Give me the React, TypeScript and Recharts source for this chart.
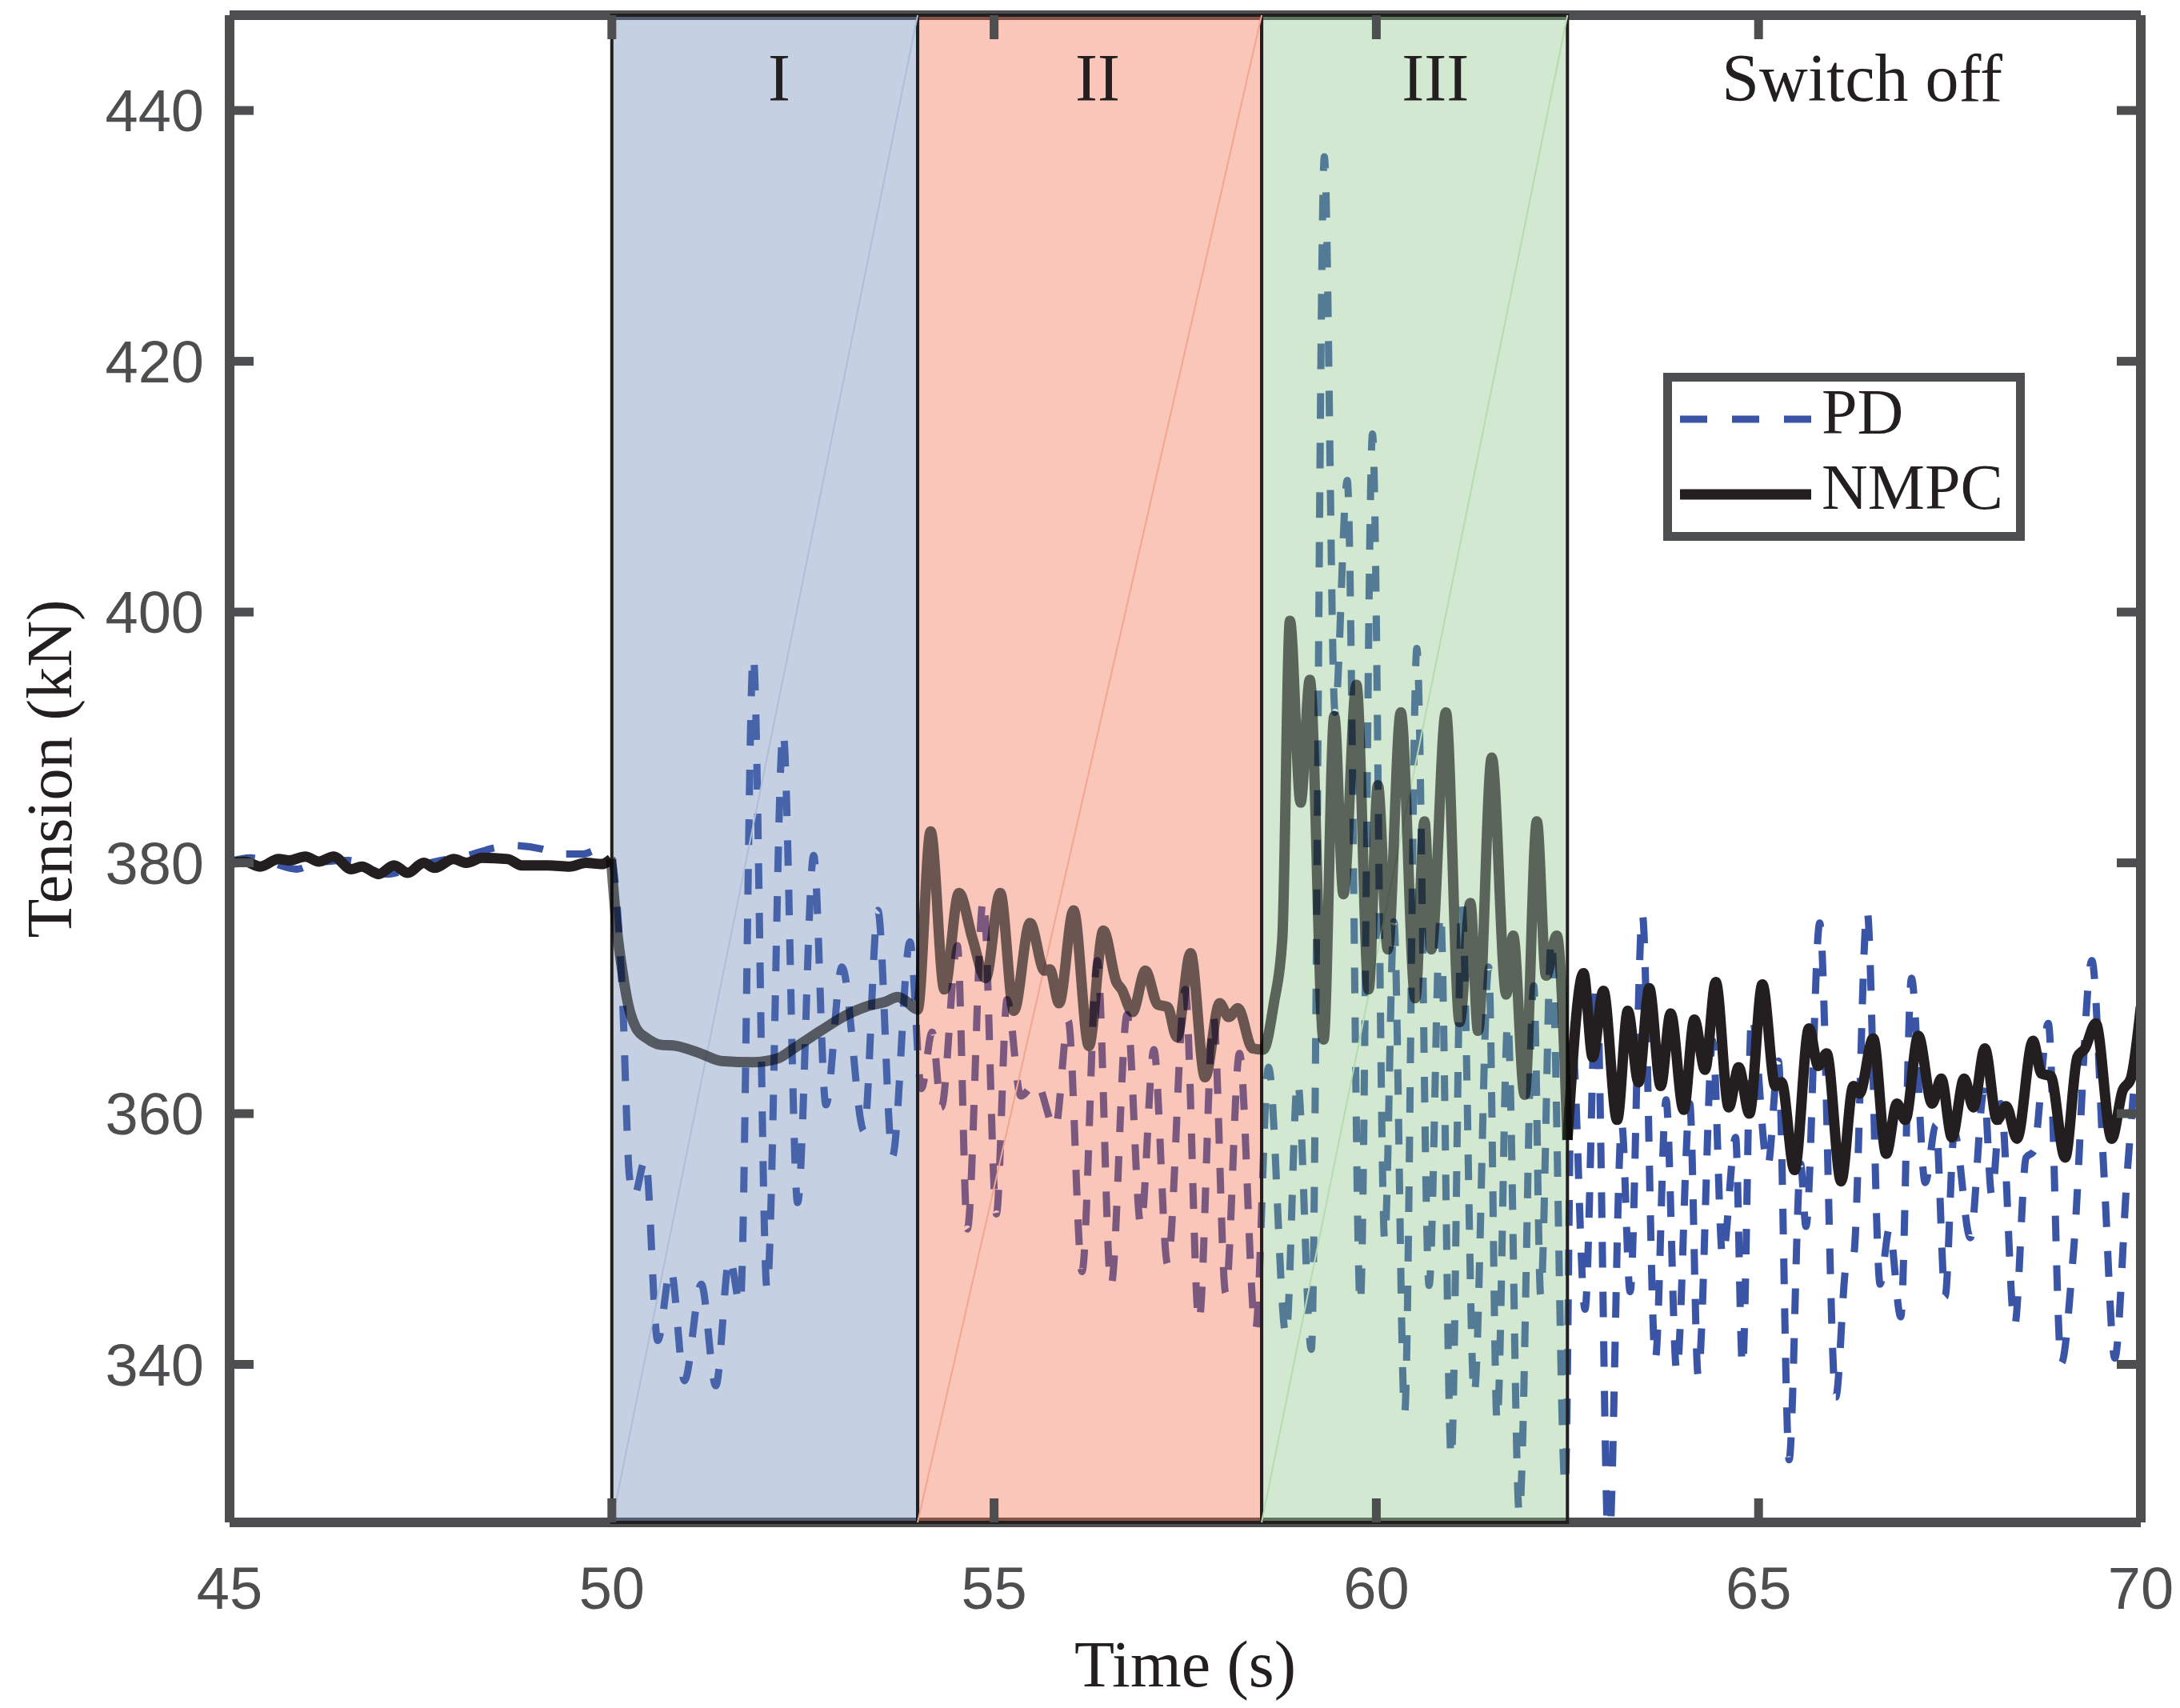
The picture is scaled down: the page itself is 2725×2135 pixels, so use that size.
import React from 'react';
import { LineChart, Line, XAxis, YAxis, ReferenceArea, ReferenceLine, Legend } from 'recharts';

// time (s), tension (kN)
const pdSamples: [number, number][] = [
  [45.0, 380.1], [45.27, 380.4], [45.5, 380.1], [45.88, 379.5], [46.13, 380.0], [46.55, 380.2], [47.07, 379.1],
  [47.42, 379.7], [47.77, 380.2], [48.12, 380.6], [48.47, 381.2], [48.64, 381.4], [49.09, 381.1], [49.27, 380.7],
  [49.62, 380.7], [49.8, 381.0], [49.97, 380.8],
  [50.05, 378.0], [50.14, 369.2], [50.23, 355.0], [50.29, 353.4], [50.44, 356.4], [50.6, 341.9], [50.77, 347.6],
  [50.95, 338.7], [51.17, 346.4], [51.36, 338.3], [51.54, 348.5], [51.68, 344.8], [51.85, 396.5], [52.03, 346.0],
  [52.24, 390.4], [52.43, 352.9], [52.64, 380.6], [52.8, 360.7], [53.01, 371.7], [53.3, 358.6], [53.48, 376.2],
  [53.67, 356.6], [53.9, 373.7], [54.05, 362.0],
  [54.19, 366.5], [54.31, 360.5], [54.52, 373.4], [54.65, 350.8], [54.86, 377.1], [55.03, 352.0], [55.17, 369.1],
  [55.35, 361.4], [55.55, 362.5], [55.8, 358.8], [55.97, 367.4], [56.15, 347.4], [56.35, 372.2], [56.53, 346.3],
  [56.74, 367.9], [56.92, 351.1], [57.09, 365.1], [57.27, 348.0], [57.5, 369.9], [57.68, 343.4], [57.87, 367.7],
  [58.03, 345.7], [58.21, 364.8], [58.42, 342.8],
  [58.59, 363.7], [58.82, 342.3], [58.97, 362.6], [59.15, 341.2], [59.32, 436.3], [59.46, 392.0], [59.62, 410.5],
  [59.79, 344.8], [59.95, 414.2], [60.11, 349.9], [60.23, 375.3], [60.37, 336.1], [60.53, 397.1], [60.69, 346.3],
  [60.84, 376.0], [60.98, 332.5], [61.12, 376.8], [61.28, 337.6], [61.47, 371.7], [61.58, 335.4], [61.72, 367.3],
  [61.87, 328.1], [62.06, 370.2], [62.15, 345.5], [62.29, 373.9], [62.47, 330.3],
  [62.56, 365.8], [62.73, 344.4], [62.88, 370.5], [63.04, 325.0], [63.21, 359.2], [63.32, 345.8], [63.48, 375.9],
  [63.65, 340.4], [63.79, 361.1], [63.93, 339.4], [64.1, 360.8], [64.21, 339.1], [64.4, 365.8], [64.53, 348.6],
  [64.7, 358.1], [64.79, 339.8], [64.91, 367.8], [65.12, 355.8], [65.26, 364.2], [65.4, 332.4], [65.55, 356.0],
  [65.62, 351.0], [65.8, 375.2], [66.01, 337.4], [66.15, 348.0], [66.24, 348.5], [66.42, 376.2],
  [66.59, 346.4], [66.71, 350.8], [66.86, 343.8], [67.0, 370.8], [67.18, 354.5], [67.32, 359.1], [67.44, 345.4],
  [67.56, 358.5], [67.77, 350.1], [67.95, 361.8], [68.05, 353.5], [68.17, 360.8], [68.35, 343.1], [68.5, 356.5],
  [68.6, 357.0], [68.79, 367.2], [68.96, 340.1], [69.12, 349.0], [69.36, 372.2], [69.52, 355.0], [69.66, 340.5],
  [69.82, 355.0], [70.0, 368.8],
];

const nmpcSamples: [number, number][] = [
  [45.0, 380.0], [45.2, 380.1], [45.4, 379.7], [45.64, 380.3], [45.78, 380.2], [45.99, 380.5], [46.17, 380.1],
  [46.36, 380.5], [46.59, 379.5], [46.73, 379.7], [46.95, 379.1], [47.15, 379.8], [47.33, 379.2], [47.54, 380.0],
  [47.68, 379.6], [47.93, 380.3], [48.1, 380.0], [48.3, 380.4], [48.64, 380.3], [48.82, 379.8], [49.17, 379.8],
  [49.45, 379.7], [49.66, 380.0], [49.87, 379.9], [49.99, 380.3],
  [50.07, 374.5], [50.14, 371.3], [50.21, 368.8], [50.32, 366.8], [50.46, 366.0], [50.63, 365.5], [50.84, 365.4],
  [51.16, 364.8], [51.43, 364.2], [51.85, 364.1], [52.17, 364.4], [52.38, 365.2], [52.73, 366.6], [53.08, 367.9],
  [53.36, 368.6], [53.57, 368.9], [53.74, 369.3], [53.84, 369.0], [54.0, 368.3],
  [54.17, 382.5], [54.35, 369.9], [54.54, 377.6], [54.72, 373.9], [54.89, 370.8], [55.08, 377.6], [55.26, 368.2],
  [55.47, 375.2], [55.66, 371.4], [55.73, 371.5], [55.85, 368.8], [56.04, 376.2], [56.24, 365.4], [56.43, 374.6],
  [56.6, 370.5], [56.67, 369.9], [56.81, 368.1], [56.98, 371.4], [57.14, 368.7], [57.27, 368.5], [57.39, 366.1],
  [57.57, 372.8], [57.76, 362.9], [57.95, 368.8], [58.07, 367.7], [58.19, 368.4], [58.38, 365.2], [58.52, 365.1],
  [58.66, 368.8], [58.77, 373.9], [58.87, 399.3], [59.01, 384.8], [59.13, 394.6], [59.31, 365.9], [59.45, 391.7],
  [59.57, 377.5], [59.74, 394.2], [59.9, 369.9], [60.02, 386.2], [60.15, 373.1], [60.32, 392.0], [60.51, 369.2],
  [60.63, 383.3], [60.72, 373.1], [60.91, 392.0], [61.09, 367.3], [61.23, 376.8], [61.33, 366.6], [61.51, 388.4],
  [61.7, 369.5], [61.79, 374.2], [61.94, 361.5], [62.1, 383.3], [62.22, 371.0], [62.36, 374.2], [62.5, 357.9],
  [62.71, 371.2], [62.83, 364.5], [62.97, 369.8], [63.15, 359.5], [63.29, 368.2], [63.43, 362.5], [63.57, 370.0],
  [63.72, 362.2], [63.85, 368.0], [64.02, 360.3], [64.16, 367.5], [64.3, 363.5], [64.44, 370.5], [64.61, 360.5],
  [64.74, 363.7], [64.88, 360.0], [65.05, 370.3], [65.22, 362.2], [65.3, 362.5], [65.47, 355.5], [65.66, 366.8],
  [65.78, 363.8], [65.89, 364.8], [66.08, 354.6], [66.24, 362.2], [66.32, 361.6], [66.5, 366.0], [66.67, 356.8],
  [66.81, 360.8], [66.92, 359.5], [67.09, 366.2], [67.27, 360.8], [67.39, 362.8], [67.53, 358.1], [67.69, 362.8],
  [67.81, 360.5], [67.96, 365.2], [68.12, 359.5], [68.24, 360.6], [68.38, 358.0], [68.59, 365.8], [68.7, 363.2],
  [68.82, 363.0], [69.01, 356.5], [69.17, 364.5], [69.27, 365.2], [69.41, 367.2], [69.62, 358.0], [69.76, 361.8],
  [69.87, 362.8], [70.0, 368.5],
];

const timeTicks = [45, 50, 55, 60, 65, 70];
const tensionTicks = [340, 360, 380, 400, 420, 440];

const phaseNames = ['I', 'II', 'III', 'Switch off'];
const phaseStart = [50, 54, 58.5, 62.5];
const phaseEnd = [54, 58.5, 62.5, 70];

const T_MIN = 45;
const T_MAX = 70;
const Y_MIN = 327.4;
const Y_MAX = 447.6;

// the NMPC trace is split where the shaded phases start and end (sample times)
const SHADE_FROM = 49.99;
const SHADE_TO = 62.5;

const FRAME = '#4d4e50';
const INK = '#231f20';
const PD_BLUE = '#3a55a5';
const SANS = '"Liberation Sans", Arial, sans-serif';
const SERIF = '"Liberation Serif", "Times New Roman", serif';

// fill colours of the shaded phases (drawn over the curves), plus the faint diagonal in each
const phaseFill = ['#5e7cb1', '#ee613d', '#82bf7c', 'none'];
const phaseTrace = ['#aebdd8', '#f3a592', '#b6dbb1', 'none'];
const labelShift = [18, 10, 26, 10];

const toRows = (s: [number, number][]) => s.map(([t, v]) => ({ t, v }));
const pdRows = toRows(pdSamples);
const nmpcBefore = toRows(nmpcSamples.filter(([t]) => t <= SHADE_FROM));
const nmpcShaded = toRows(nmpcSamples.filter(([t]) => t >= SHADE_FROM && t <= SHADE_TO));
const nmpcAfter = toRows(nmpcSamples.filter(([t]) => t >= SHADE_TO));

const legendItems = [
  { name: 'PD', color: PD_BLUE, width: 9, dash: '34 31' },
  { name: 'NMPC', color: INK, width: 13, dash: undefined },
];

const BottomTick = (props: any) => {
  const { x, y, payload } = props;
  return (
    <g>
      <line x1={x} x2={x} y1={y} y2={y - 30} stroke={FRAME} strokeWidth={11} />
      <text x={x} y={y + 108} textAnchor="middle" fill={FRAME} fontSize={74} fontFamily={SANS}>
        {payload.value}
      </text>
    </g>
  );
};

const TopTick = (props: any) => {
  const { x, y } = props;
  return <line x1={x} x2={x} y1={y} y2={y + 30} stroke={FRAME} strokeWidth={11} />;
};

const LeftTick = (props: any) => {
  const { x, y, payload } = props;
  return (
    <g>
      <line x1={x} x2={x + 30} y1={y} y2={y} stroke={FRAME} strokeWidth={11} />
      <text x={x - 32} y={y + 26} textAnchor="end" fill={FRAME} fontSize={74} fontFamily={SANS}>
        {payload.value}
      </text>
    </g>
  );
};

const RightTick = (props: any) => {
  const { x, y } = props;
  return <line x1={x} x2={x - 30} y1={y} y2={y} stroke={FRAME} strokeWidth={11} />;
};

const LegendBox = () => (
  <svg width={452} height={210}>
    <rect x={5.5} y={5.5} width={441} height={199} fill="#fff" stroke={FRAME} strokeWidth={11} />
    {legendItems.map((s, i) => {
      const y = 58 + i * 94;
      return (
        <g key={s.name}>
          <line x1={21} x2={185} y1={y} y2={y} stroke={s.color} strokeWidth={s.width} strokeDasharray={s.dash} />
          <text x={198} y={y + 18} fill={INK} fontSize={80} fontFamily={SERIF}>
            {s.name}
          </text>
        </g>
      );
    })}
  </svg>
);

export default function App() {
  return (
    <LineChart width={2709} height={2125} margin={{ top: 10, right: 40, bottom: 0, left: 0 }}>
      <XAxis
        type="number"
        dataKey="t"
        domain={[T_MIN, T_MAX]}
        ticks={timeTicks}
        interval={0}
        allowDataOverflow
        height={230}
        tickSize={0}
        tickMargin={0}
        tickLine={false}
        axisLine={{ stroke: FRAME, strokeWidth: 12 }}
        tick={<BottomTick />}
        label={{ value: 'Time (s)', position: 'insideBottom', offset: 25, fill: INK, fontSize: 82, fontFamily: SERIF }}
      />
      <XAxis
        xAxisId="top"
        orientation="top"
        type="number"
        dataKey="t"
        domain={[T_MIN, T_MAX]}
        ticks={timeTicks}
        interval={0}
        allowDataOverflow
        height={1}
        tickSize={0}
        tickMargin={0}
        tickLine={false}
        axisLine={{ stroke: FRAME, strokeWidth: 12 }}
        tick={<TopTick />}
      />
      <YAxis
        type="number"
        domain={[Y_MIN, Y_MAX]}
        ticks={tensionTicks}
        interval={0}
        allowDataOverflow
        width={279}
        tickSize={0}
        tickMargin={0}
        tickLine={false}
        axisLine={{ stroke: FRAME, strokeWidth: 12 }}
        tick={<LeftTick />}
        label={{
          value: 'Tension (kN)',
          angle: -90,
          position: 'insideLeft',
          offset: 53,
          style: { textAnchor: 'middle' },
          fill: INK,
          fontSize: 80,
          fontFamily: SERIF,
        }}
      />
      <YAxis
        yAxisId="right"
        orientation="right"
        type="number"
        domain={[Y_MIN, Y_MAX]}
        ticks={tensionTicks}
        interval={0}
        allowDataOverflow
        width={1}
        tickSize={0}
        tickMargin={0}
        tickLine={false}
        axisLine={{ stroke: FRAME, strokeWidth: 12 }}
        tick={<RightTick />}
      />

      <Line
        name="PD"
        data={pdRows}
        dataKey="v"
        type="monotone"
        stroke={PD_BLUE}
        strokeWidth={9}
        strokeDasharray="32 30"
        dot={false}
        activeDot={false}
        isAnimationActive={false}
      />
      <Line
        name="NMPC"
        data={nmpcBefore}
        dataKey="v"
        type="monotone"
        stroke={INK}
        strokeWidth={13}
        strokeLinejoin="round"
        dot={false}
        activeDot={false}
        isAnimationActive={false}
      />
      <Line
        name="NMPC after"
        legendType="none"
        data={nmpcAfter}
        dataKey="v"
        type="monotone"
        stroke={INK}
        strokeWidth={13}
        strokeLinejoin="round"
        dot={false}
        activeDot={false}
        isAnimationActive={false}
      />

      {phaseNames.map((name, i) => (
        <ReferenceArea
          key={name}
          x1={phaseStart[i]}
          x2={phaseEnd[i]}
          y1={Y_MIN}
          y2={Y_MAX}
          fill={phaseFill[i]}
          fillOpacity={phaseFill[i] === 'none' ? 0 : 0.36}
          stroke={phaseFill[i] === 'none' ? 'none' : INK}
          strokeWidth={4}
          ifOverflow="visible"
          zIndex={600}
          label={(p: any) => {
            const vb = p.viewBox || {};
            return (
              <text
                x={vb.x + vb.width / 2 + labelShift[i]}
                y={vb.y + 107}
                textAnchor="middle"
                fill={INK}
                fontSize={84}
                fontFamily={SERIF}
              >
                {name}
              </text>
            );
          }}
        />
      ))}

      {phaseNames.slice(0, 3).map((name, i) => (
        <ReferenceLine
          key={`trace-${name}`}
          segment={[
            { x: phaseStart[i], y: Y_MIN },
            { x: phaseEnd[i], y: Y_MAX },
          ]}
          stroke={phaseTrace[i]}
          strokeWidth={2}
          zIndex={610}
        />
      ))}

      {/* inside the shaded phases the NMPC trace shows through the patches */}
      <Line
        name="NMPC shaded"
        legendType="none"
        data={nmpcShaded}
        dataKey="v"
        type="monotone"
        stroke="#000"
        strokeOpacity={0.57}
        strokeWidth={13}
        strokeLinejoin="round"
        dot={false}
        activeDot={false}
        isAnimationActive={false}
        zIndex={650}
      />

      <Legend
        layout="horizontal"
        verticalAlign="middle"
        align="center"
        content={() => <LegendBox />}
        wrapperStyle={{ left: 2071, top: 458, width: 452, height: 210 }}
      />
    </LineChart>
  );
}
